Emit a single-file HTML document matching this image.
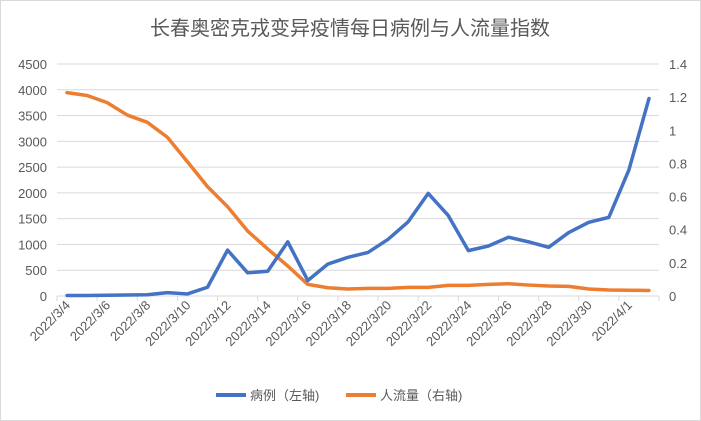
<!DOCTYPE html>
<html><head><meta charset="utf-8"><style>
html,body{margin:0;padding:0;background:#fff;}
svg{display:block;font-family:"Liberation Sans","Noto Sans CJK SC",sans-serif;}
</style></head><body>
<svg id="chart" width="701" height="421" viewBox="0 0 701 421">
<rect x="0.5" y="0.5" width="700" height="420" fill="#fff" stroke="#d9d9d9"/>
<text x="350" y="35" text-anchor="middle" font-size="20" fill="#595959">长春奥密克戎变异疫情每日病例与人流量指数</text>
<g id="grid"></g><g id="axes"></g><g id="series"></g>
<g>
<line x1="216" y1="395" x2="246" y2="395" stroke="#4472c4" stroke-width="4"/>
<text x="250" y="400" font-size="13" fill="#595959">病例（左轴)</text>
<line x1="346" y1="395" x2="376" y2="395" stroke="#ed7d31" stroke-width="4"/>
<text x="380" y="400" font-size="13" fill="#595959">人流量（右轴)</text>
</g>
</svg>
<script>
const categories=["2022/3/4","2022/3/5","2022/3/6","2022/3/7","2022/3/8","2022/3/9","2022/3/10","2022/3/11","2022/3/12","2022/3/13","2022/3/14","2022/3/15","2022/3/16","2022/3/17","2022/3/18","2022/3/19","2022/3/20","2022/3/21","2022/3/22","2022/3/23","2022/3/24","2022/3/25","2022/3/26","2022/3/27","2022/3/28","2022/3/29","2022/3/30","2022/3/31","2022/4/1","2022/4/2"];
const cases=[10,10,15,20,25,65,40,170,890,450,480,1050,300,620,750,845,1100,1440,1990,1560,880,970,1140,1050,945,1230,1430,1525,2445,3830];
const flow=[1.227,1.21,1.167,1.092,1.048,0.958,0.81,0.66,0.539,0.392,0.284,0.181,0.07,0.05,0.042,0.046,0.046,0.052,0.052,0.064,0.064,0.07,0.074,0.066,0.06,0.058,0.042,0.036,0.035,0.033];
const leftTicks=[0,500,1000,1500,2000,2500,3000,3500,4000,4500];
const rightTicks=[0,0.2,0.4,0.6,0.8,1,1.2,1.4];
const NS="http://www.w3.org/2000/svg";
const X0=57,X1=659,Y0=296,Y1=64;
const cw=(X1-X0)/categories.length;
const xPos=i=>X0+cw*(i+0.5);
const yL=v=>Y0-(v/4500)*(Y0-Y1);
const yR=v=>Y0-(v/1.4)*(Y0-Y1);
function mk(tag,attrs,parent){const e=document.createElementNS(NS,tag);for(const k in attrs)e.setAttribute(k,attrs[k]);parent.appendChild(e);return e;}
const grid=document.getElementById('grid'),axes=document.getElementById('axes'),ser=document.getElementById('series');
leftTicks.forEach(v=>{
  const g=mk('line',{x1:X0,x2:X1,y1:yL(v),y2:yL(v),stroke:'#d9d9d9','stroke-width':1},grid);
  
  
  const t=mk('text',{x:X0-10,y:yL(v)+5,'text-anchor':'end','font-size':13,fill:'#595959'},axes);
  t.textContent=v;
  
  
});
rightTicks.forEach(v=>{
  const t=mk('text',{x:X1+10,y:yR(v)+5,'text-anchor':'start','font-size':13,fill:'#595959'},axes);
  t.textContent=v;
  
  
});
const ax=mk('line',{x1:X0,x2:X1,y1:Y0,y2:Y0,stroke:'#d9d9d9'},axes);


for(let i=0;i<=categories.length;i+=2){
  const x=X0+cw*i;
  const tk=mk('line',{x1:x,x2:x,y1:Y0,y2:Y0+5,stroke:'#d9d9d9'},axes);
  
  
}
categories.forEach((c,i)=>{
  if(i%2)return;
  const x=xPos(i)+4,y=Y0+10;
  const t=mk('text',{x:x,y:y,'text-anchor':'end','font-size':13,fill:'#595959',transform:`rotate(-45 ${x} ${y})`},axes);
  t.textContent=c;
  
  
});
const p1=mk('polyline',{points:flow.map((v,i)=>xPos(i)+','+yR(v)).join(' '),fill:'none',stroke:'#ed7d31','stroke-width':3.5,'stroke-linejoin':'round','stroke-linecap':'round'},ser);


const p2=mk('polyline',{points:cases.map((v,i)=>xPos(i)+','+yL(v)).join(' '),fill:'none',stroke:'#4472c4','stroke-width':3.5,'stroke-linejoin':'round','stroke-linecap':'round'},ser);


</script>
</body></html>
